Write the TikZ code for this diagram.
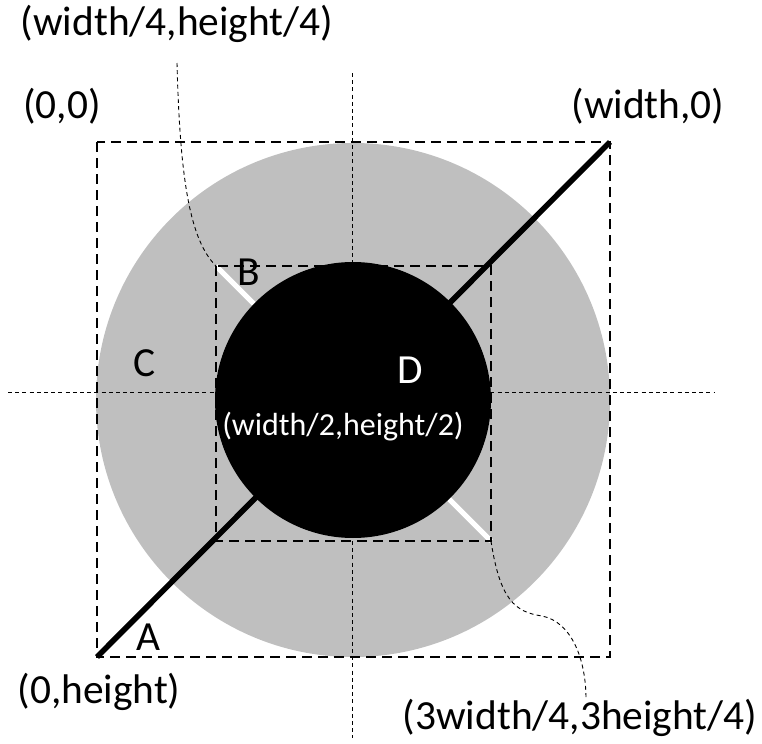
\documentclass[tikz,border=0pt]{standalone}
\usepackage{fontspec}
\setmainfont{Carlito}
\usepackage{tikz}
\definecolor{ringgray}{RGB}{191,191,191}

\begin{document}
\begin{tikzpicture}[x=0.5pt, y=-0.5pt,
  every node/.style={font=\fontsize{20.7}{25}\selectfont, inner sep=0pt},
  box/.style={line width=1pt, dash pattern=on 5pt off 3pt},
  axis/.style={line width=0.45pt, dash pattern=on 2pt off 1.6pt},
  lead/.style={line width=0.45pt, dash pattern=on 2pt off 1.6pt}]
  \useasboundingbox (0,0) rectangle (762,744);
  % corners and centre
  \coordinate (tl) at (97,142);
  \coordinate (tr) at (610,142);
  \coordinate (bl) at (97,657);
  \coordinate (br) at (610,657);
  \coordinate (ctr) at (353,400);
  \coordinate (q1) at (216,266);
  \coordinate (q3) at (491,541);
  % disks
  \fill[ringgray] (ctr) circle[radius=128.5pt];
  \draw[white,line width=2.5pt] (q1) -- (q3);
  \fill[black] (ctr) circle[radius=69pt];
  \draw[black,line width=2.8pt] (bl) -- (tr);
  % axes
  \draw[axis] (352,73) -- (352,738);
  \draw[axis] (8,392) -- (715,392);
  % squares
  \draw[box] (tl) rectangle (br);
  \draw[box] (q1) rectangle (q3);
  % labels
  \node (lq) at (177,24) {(width/4,height/4)};
  \node (org) at (62,106) {(0,0)};
  \node (wz) at (648,106) {(width,0)};
  \node (zh) at (99,692) {(0,height)};
  \node (lr) at (580,718) {(3width/4,3height/4)};
  \node (b) at (249,272) {B};
  \node (c) at (145,363) {C};
  \node[text=white] (d) at (410,370) {D};
  \node[text=white,font=\fontsize{16}{19}\selectfont] (mid) at (343,427) {(width/2,height/2)};
  \node (a) at (148,637) {A};
  % leaders
  \coordinate (lqtip) at (177,63);
  \draw[lead] (lqtip) .. controls (180,180) and (190,240) .. (q1);
  \draw[lead] (q3) .. controls (500,600) and (515,612) .. (542,616)
    .. controls (572,622) and (586,660) .. ([xshift=3pt]lr.north);
\end{tikzpicture}
\end{document}
